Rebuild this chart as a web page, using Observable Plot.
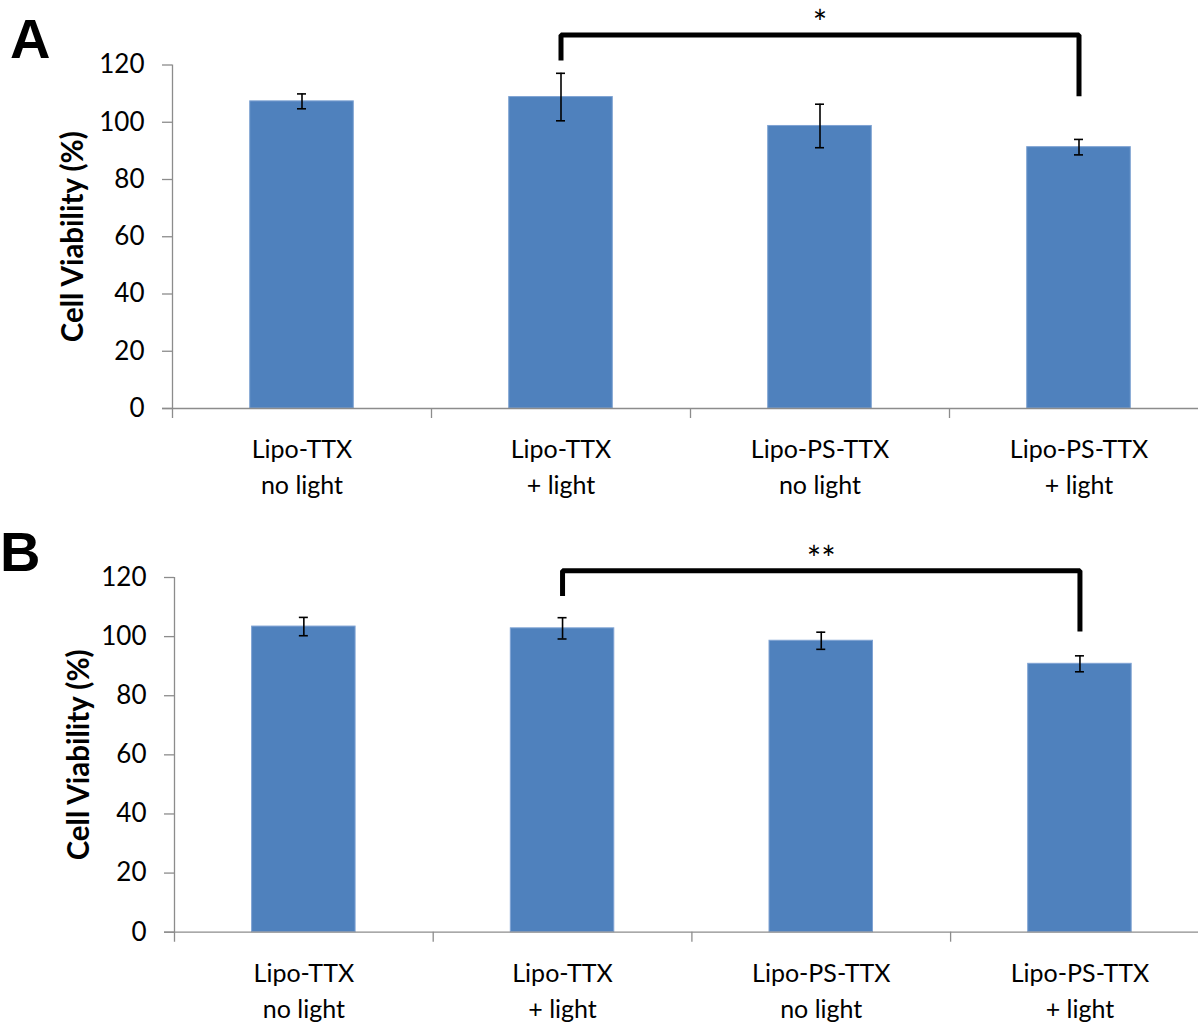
<!DOCTYPE html>
<html>
<head>
<meta charset="utf-8">
<script src="https://cdn.jsdelivr.net/npm/d3@7"></script>
<script src="https://cdn.jsdelivr.net/npm/@observablehq/plot@0.6"></script>
<style>
  html, body { margin: 0; padding: 0; background: #fff; overflow: hidden; }
  #fig { position: relative; width: 1198px; height: 1027px; overflow: hidden; background: #fff; }
  .panel { position: absolute; left: 0; }
  .letter { position: absolute; font-family: "Liberation Sans", Arial, sans-serif; font-weight: bold; font-size: 56px; line-height: 1; color: #000; }
</style>
</head>
<body>
<div id="fig"></div>
<script>
// Treatment groups (x categories)
const categories = ["Lipo-TTX\nno light", "Lipo-TTX\n+ light", "Lipo-PS-TTX\nno light", "Lipo-PS-TTX\n+ light"];

// Panel A: mean cell viability (%) and error
const viabilityA = [107.3, 108.8, 98.7, 91.3];
const errorA = [2.6, 8.3, 7.6, 2.7];

// Panel B: mean cell viability (%) and error
const viabilityB = [103.4, 102.8, 98.6, 90.8];
const errorB = [3.1, 3.6, 2.9, 2.7];

// y axis ticks
const yTicks = [0, 20, 40, 60, 80, 100, 120];

// Significance brackets between "Lipo-TTX + light" and "Lipo-PS-TTX + light":
// [left leg end, bracket height, right leg end] in % units, plus star label height
const bracketA = [121.6, 130.5, 109.1];
const starsA = "*";
const starYA = 137.3;
const bracketB = [113.7, 122.3, 101.7];
const starsB = "**";
const starYB = 128.9;

const AXIS_GRAY = "#8c8c8c";
const BAR_BLUE = "#4f81bd";

function panel({values, errors, bracket, stars, starY, height, marginTop, marginBottom, marginLeft, step, titleDx}) {
  const rows = categories.map((c, i) => ({i, c, v: values[i], e: errors[i]}));
  const [leftEnd, level, rightEnd] = bracket;
  const bracketPath = [
    {x: 1.5, y: leftEnd}, {x: 1.5, y: level},
    {x: 3.5, y: level}, {x: 3.5, y: rightEnd}
  ];
  return Plot.plot({
    width: 1198,
    height,
    marginTop,
    marginBottom,
    marginLeft,
    marginRight: 1198 - marginLeft - 4 * step,
    x: {domain: [0, 4], axis: null},
    y: {domain: [0, 120], axis: null},
    style: {fontFamily: "Lato, sans-serif", fontSize: "26px", background: "#fff", color: "#000", overflow: "hidden"},
    marks: [
      // bars
      Plot.rectY(rows, {x1: d => d.i + 0.3, x2: d => d.i + 0.7, y1: 0, y2: "v", fill: BAR_BLUE, stroke: "#7fa3d3", strokeWidth: 1}),
      // axis lines and category boundary ticks
      Plot.ruleX([0], {y1: 120, y2: 0, insetBottom: -10, stroke: AXIS_GRAY, strokeWidth: 1.3}),
      Plot.ruleX([1, 2, 3, 4], {y1: 0, y2: 0, insetBottom: -10, stroke: AXIS_GRAY, strokeWidth: 1.3}),
      Plot.ruleY([0], {x1: 0, x2: 4, insetLeft: -10, stroke: AXIS_GRAY, strokeWidth: 1.3}),
      Plot.axisY({ticks: yTicks, tickSize: 10, tickPadding: 18, stroke: AXIS_GRAY, strokeWidth: 1.3, fill: "#000", fontSize: 26, label: null}),
      Plot.axisX({
        ticks: categories.map((_, i) => i + 0.5),
        tickSize: 0,
        tickPadding: 24,
        tickFormat: t => categories[Math.round(t - 0.5)],
        fontSize: 25,
        lineHeight: 1.45,
        fill: "#000",
        label: null
      }),
      // error bars
      Plot.ruleX(rows, {x: d => d.i + 0.5, y1: d => d.v + d.e, y2: d => d.v - d.e, stroke: "#000", strokeWidth: 1.6}),
      Plot.ruleY(rows, {x1: d => d.i + 0.5, x2: d => d.i + 0.5, y: d => d.v + d.e, insetLeft: -4.5, insetRight: -4.5, stroke: "#000", strokeWidth: 1.6}),
      Plot.ruleY(rows, {x1: d => d.i + 0.5, x2: d => d.i + 0.5, y: d => d.v - d.e, insetLeft: -4.5, insetRight: -4.5, stroke: "#000", strokeWidth: 1.6}),
      // significance bracket
      Plot.line(bracketPath, {x: "x", y: "y", stroke: "#000", strokeWidth: 5, strokeLinejoin: "miter", strokeLinecap: "butt"}),
      Plot.text([stars], {x: 2.5, y: starY, text: d => d, fontSize: 34, fill: "#000", lineAnchor: "middle", dy: 9}),
      // y axis title
      Plot.text(["Cell Viability (%)"], {frameAnchor: "left", textAnchor: "middle", rotate: -90, dx: titleDx, text: d => d, fontWeight: "bold", fontSize: 29.5, fill: "#000", lineAnchor: "middle"})
    ]
  });
}

const fig = document.getElementById("fig");

const a = panel({
  values: viabilityA, errors: errorA, bracket: bracketA, stars: starsA, starY: starYA,
  height: 515, marginTop: 64.5, marginBottom: 107, marginLeft: 172, step: 259, titleDx: -99
});
a.classList.add("panel");
a.style.top = "0px";
fig.appendChild(a);

const b = panel({
  values: viabilityB, errors: errorB, bracket: bracketB, stars: starsB, starY: starYB,
  height: 512, marginTop: 62, marginBottom: 95.3, marginLeft: 174, step: 258.7, titleDx: -95
});
b.classList.add("panel");
b.style.top = "515px";
fig.appendChild(b);

// panel letters
for (const [txt, left, top] of [["A", 10, 11], ["B", 0, 524]]) {
  const el = document.createElement("div");
  el.className = "letter";
  el.textContent = txt;
  el.style.left = left + "px";
  el.style.top = top + "px";
  fig.appendChild(el);
}
</script>
</body>
</html>
